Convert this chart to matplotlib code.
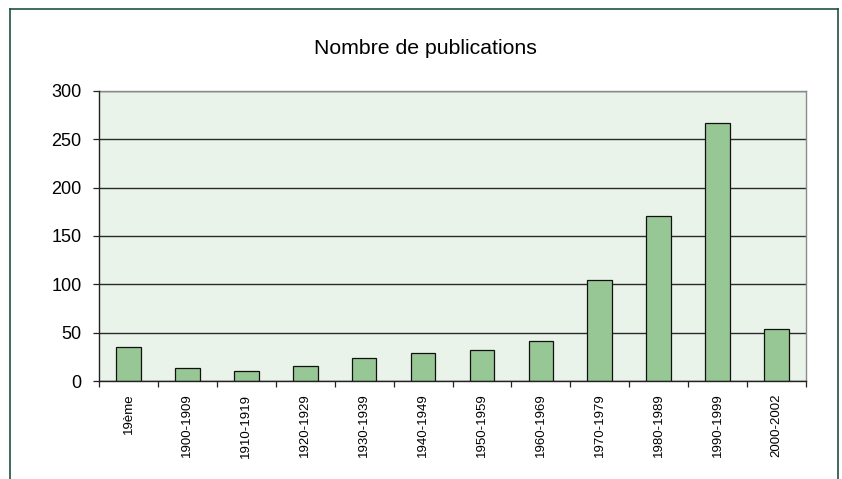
import matplotlib
matplotlib.use("Agg")
import matplotlib.pyplot as plt
from matplotlib.lines import Line2D
import numpy as np

plt.rcParams["font.family"] = ["Liberation Sans", "DejaVu Sans"]

# ── Data ────────────────────────────────────────────────────────────────
periods = ["19ème", "1900-1909", "1910-1919", "1920-1929", "1930-1939",
           "1940-1949", "1950-1959", "1960-1969", "1970-1979", "1980-1989",
           "1990-1999", "2000-2002"]
publications = [35, 13, 10, 16, 24, 29, 32, 41, 104, 171, 267, 54]
y_ticks = [0, 50, 100, 150, 200, 250, 300]

# ── Figure ──────────────────────────────────────────────────────────────
W, H = 842, 479
fig = plt.figure(figsize=(W / 100, H / 100), dpi=100)

# dark green outer frame (bottom edge cut off)
frame_col = "#1f5442"
for xs, ys in [([10, 10], [H + 5, 9]), ([10, 838], [9, 9]), ([838, 838], [9, H + 5])]:
    fig.add_artist(Line2D([x / W for x in xs], [1 - y / H for y in ys],
                          color=frame_col, lw=1.2, transform=fig.transFigure))

ax = fig.add_axes([99 / W, 1 - 381 / H, (806 - 99) / W, (381 - 91) / H])
ax.set_facecolor("#eaf3ea")

x = np.arange(len(periods))
ax.bar(x, publications, width=0.42, color="#97c794", edgecolor="#111111",
       linewidth=0.9, zorder=3)

ax.set_xlim(-0.5, len(periods) - 0.5)
ax.set_ylim(0, 300)
ax.set_yticks(y_ticks)
ax.tick_params(axis="y", labelsize=13, length=4.5, width=0.9, pad=8,
               color="#222222")
ax.yaxis.grid(True, color="#2a2a2a", lw=1.0, zorder=1)

ax.set_xticks(x)
ax.set_xticklabels(periods, rotation=90, fontsize=9.5)
ax.set_xticks(np.arange(-0.5, len(periods), 1.0), minor=True)
ax.tick_params(axis="x", which="major", length=0, pad=9)
ax.tick_params(axis="x", which="minor", length=4, width=0.9, color="#222222")

for side in ["top", "right"]:
    ax.spines[side].set_color("#8a8a8a")
    ax.spines[side].set_linewidth(1.0)
for side in ["left", "bottom"]:
    ax.spines[side].set_color("#222222")
    ax.spines[side].set_linewidth(1.0)
    ax.spines[side].set_zorder(4)

fig.text(425 / W, 1 - 54 / H, "Nombre de publications", ha="center",
         va="baseline", fontsize=15.3)

fig.savefig("out.png", dpi=100)
